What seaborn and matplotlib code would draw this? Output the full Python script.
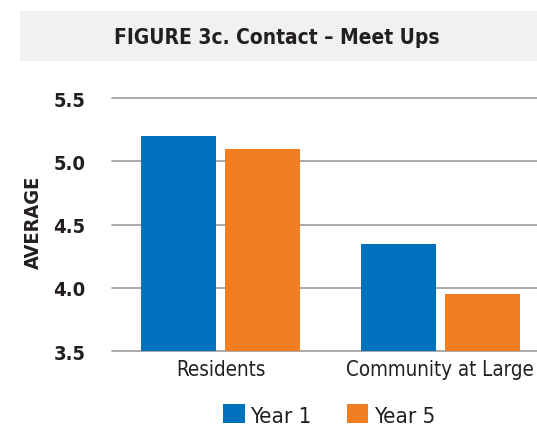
import matplotlib
matplotlib.use('Agg')
import matplotlib.pyplot as plt
from matplotlib.patches import Rectangle
import seaborn as sns
import pandas as pd

# values
categories = ['Residents', 'Community at Large']
years = ['Year 1', 'Year 5']
year1 = [5.2, 4.35]
year5 = [5.1, 3.95]
yticks = [3.5, 4.0, 4.5, 5.0, 5.5]

data = pd.DataFrame({
    'Group': categories * 2,
    'Year': [years[0]] * 2 + [years[1]] * 2,
    'Average': year1 + year5,
})

sns.set_style('white')
plt.rcParams['font.family'] = ['DejaVu Sans']
plt.rcParams['font.stretch'] = 'condensed'
ink = '#231f20'

fig = plt.figure(figsize=(5.37, 4.27), dpi=100)
ax = fig.add_axes([112 / 537, 0.1756, 1 - 112 / 537, 0.768 - 0.1756])

sns.barplot(data=data, x='Group', y='Average', hue='Year', ax=ax,
            palette=['#0071bc', '#f37e22'], saturation=1,
            width=0.764, gap=0.107, linewidth=0, legend=True)

ax.set_ylim(3.5, 5.5)
ax.set_xlim(-0.493, 1.439)
ax.set_yticks(yticks)
ax.set_yticklabels([f'{v:.1f}' for v in yticks], fontsize=14.5, fontweight='bold', color=ink)
ax.tick_params(axis='y', length=0, pad=19)
ax.tick_params(axis='x', length=0, pad=6, labelsize=14.8, labelcolor=ink)
ax.set_xlabel('')
ax.set_ylabel('AVERAGE', fontsize=14.4, fontweight='bold', color=ink)
ax.yaxis.set_label_coords(-0.162, 0.514)

ax.set_axisbelow(True)
ax.grid(axis='y', color='#9b9b9b', linewidth=1.2)
for line in ax.get_ygridlines():
    line.set_clip_on(False)
for side in ['top', 'right', 'left', 'bottom']:
    ax.spines[side].set_visible(False)

handles, labels = ax.get_legend_handles_labels()
ax.get_legend().remove()
fig.legend(handles, labels, loc='center', bbox_to_anchor=(0.613, 0.026),
           ncol=2, frameon=False, fontsize=16, labelcolor=ink,
           handlelength=0.95, handleheight=0.95, handletextpad=0.25,
           columnspacing=1.6)

# grey title band
fig.patches.append(Rectangle((0.037, 0.855), 0.963, 0.117, transform=fig.transFigure,
                             facecolor='#f0f1f3', edgecolor='none', zorder=0))
fig.text(0.516, 0.912, 'FIGURE 3c. Contact – Meet Ups', ha='center', va='center',
         fontsize=15, fontweight='bold', color=ink)

fig.savefig('out.png', dpi=100)
